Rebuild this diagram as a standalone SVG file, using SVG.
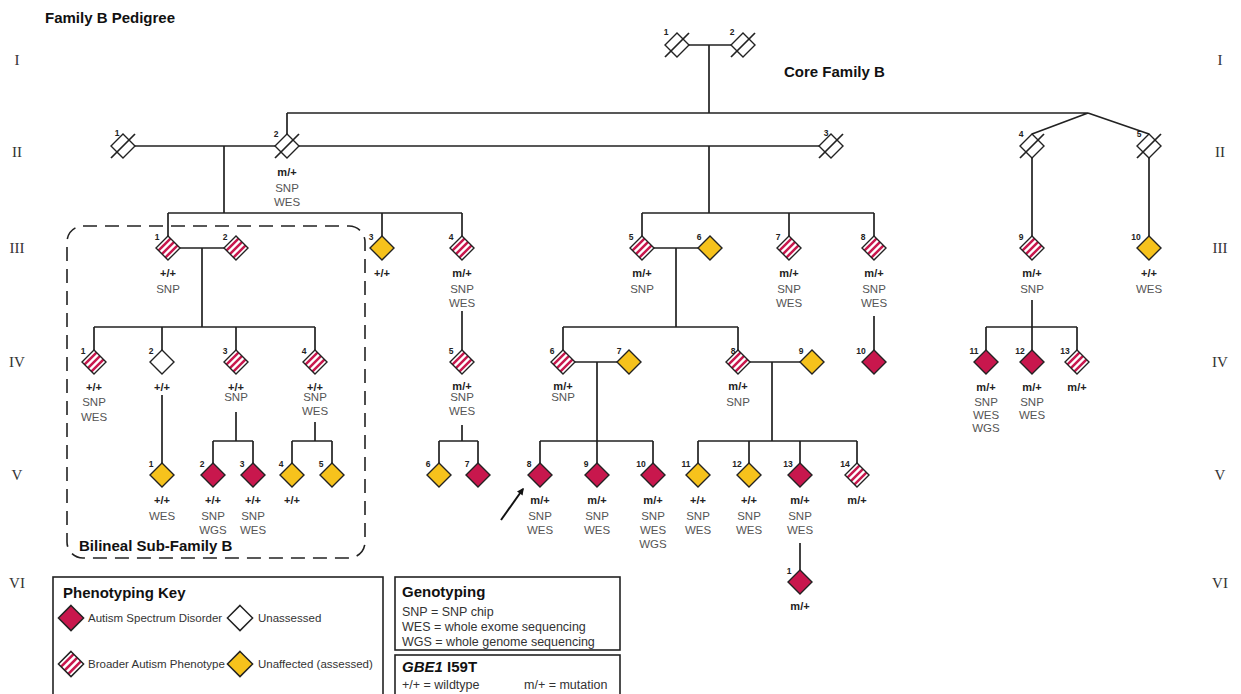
<svg xmlns="http://www.w3.org/2000/svg" xmlns:xlink="http://www.w3.org/1999/xlink" width="1241" height="694" viewBox="0 0 1241 694">
<style>
.ln{stroke:#222;stroke-width:1.7;fill:none}
.dia{stroke:#222;stroke-width:1.4}
.asdf{fill:#c8174d}
.unf{fill:#f6c21c}
.wf{fill:#fff}
.g{font-family:"Liberation Sans",Arial,sans-serif;font-weight:bold;font-size:11px;fill:#222;text-anchor:middle}
.a{font-family:"Liberation Sans",Arial,sans-serif;font-size:11.5px;fill:#555;text-anchor:middle}
.n{font-family:"Liberation Sans",Arial,sans-serif;font-weight:bold;font-size:8.5px;fill:#222;text-anchor:middle}
.gen{font-family:"Liberation Serif","Times New Roman",serif;font-size:15px;fill:#333;text-anchor:middle}
.ttl{font-family:"Liberation Sans",Arial,sans-serif;font-weight:bold;font-size:15px;fill:#111}
.key{font-family:"Liberation Sans",Arial,sans-serif;font-size:11.5px;fill:#333}
.key2{font-family:"Liberation Sans",Arial,sans-serif;font-size:12.5px;fill:#333}
.box{fill:#fff;stroke:#222;stroke-width:1.6}
</style>
<defs>
<clipPath id="dclip"><polygon points="0,-12 12,0 0,12 -12,0"/></clipPath>
<g id="asd"><polygon class="dia asdf" points="0,-12 12,0 0,12 -12,0"/></g>
<g id="unaff"><polygon class="dia unf" points="0,-12 12,0 0,12 -12,0"/></g>
<g id="unas"><polygon class="dia wf" points="0,-12 12,0 0,12 -12,0"/></g>
<g id="bap"><polygon class="wf" points="0,-12 12,0 0,12 -12,0"/><g clip-path="url(#dclip)" stroke="#c8174d" stroke-width="2.5"><line x1="-20" y1="13.1" x2="13.1" y2="-20"/><line x1="-20" y1="20" x2="20" y2="-20"/><line x1="-13.1" y1="20" x2="20" y2="-13.1"/></g><polygon class="dia" fill="none" points="0,-12 12,0 0,12 -12,0"/></g>
<g id="dec"><polygon class="dia wf" points="0,-12 12,0 0,12 -12,0"/><line class="ln" x1="-12" y1="12" x2="12" y2="-12"/></g>
<marker id="arr" viewBox="0 0 10 10" refX="8" refY="5" markerWidth="7" markerHeight="7" orient="auto" markerUnits="userSpaceOnUse"><path d="M0,0 L10,5 L0,10 z" fill="#111"/></marker>
</defs>
<rect width="1241" height="694" fill="#fff"/>
<text class="ttl" x="45" y="23">Family B Pedigree</text>
<text class="ttl" x="784" y="77">Core Family B</text>
<g id="gen-labels">
<text class="gen" x="17" y="65">I</text><text class="gen" x="17" y="157">II</text><text class="gen" x="17" y="253">III</text><text class="gen" x="17" y="367">IV</text><text class="gen" x="17" y="480">V</text><text class="gen" x="17" y="588">VI</text>
<text class="gen" x="1220" y="65">I</text><text class="gen" x="1220" y="157">II</text><text class="gen" x="1220" y="253">III</text><text class="gen" x="1220" y="367">IV</text><text class="gen" x="1220" y="480">V</text><text class="gen" x="1220" y="588">VI</text>
</g>
<g id="subfamily-box">
<rect x="67" y="226" width="298" height="332" rx="16" fill="none" stroke="#222" stroke-width="1.6" stroke-dasharray="14 8"/>
<text class="ttl" x="79" y="551">Bilineal Sub-Family B</text>
</g>
<g id="connectors">
<path class="ln" d="M689,45 H731 M709,45 V113 M287,113 H1088 M287,113 V134 M1088,113 L1032,134 M1088,113 L1149,134"/>
<path class="ln" d="M135,146 H275 M224,146 V213 M168,213 H462 M168,213 V236 M382,213 V236 M462,213 V236"/>
<path class="ln" d="M299,146 H819 M709,146 V213 M642,213 H874 M642,213 V236 M789,213 V236 M874,213 V236"/>
<path class="ln" d="M1032,158 V236 M1149,158 V236"/>
<path class="ln" d="M180,248 H224 M202,248 V327 M94,327 H315 M94,327 V350 M162,327 V350 M236,327 V350 M315,327 V350"/>
<path class="ln" d="M462,311 V350"/>
<path class="ln" d="M654,248 H698 M676,248 V327 M563,327 H738 M563,327 V350 M738,327 V350"/>
<path class="ln" d="M874,316 V350"/>
<path class="ln" d="M1032,300 V350 M986,327 H1077 M986,327 V350 M1077,327 V350"/>
<path class="ln" d="M162,395 V463 M236,412 V441 M213,441 H253 M213,441 V463 M253,441 V463 M315,422 V441 M292,441 H332 M292,441 V463 M332,441 V463"/>
<path class="ln" d="M462,425 V441 M439,441 H478 M439,441 V463 M478,441 V463"/>
<path class="ln" d="M575,362 H617 M597,362 V463 M540,441 H653 M540,441 V463 M653,441 V463"/>
<path class="ln" d="M750,362 H800 M772,362 V441 M698,441 H857 M698,441 V463 M749,441 V463 M800,441 V463 M857,441 V463"/>
<path class="ln" d="M800,543 V570"/>
<line x1="501" y1="520" x2="523" y2="489" stroke="#111" stroke-width="2" marker-end="url(#arr)"/>
</g>
<g id="I-1"><use href="#dec" x="677" y="45"/><text class="n" x="666" y="35">1</text></g>
<g id="I-2"><use href="#dec" x="743" y="45"/><text class="n" x="732" y="35">2</text></g>
<g id="II-1"><use href="#dec" x="123" y="146"/><text class="n" x="117" y="136">1</text></g>
<g id="II-2"><use href="#dec" x="287" y="146"/><text class="n" x="276" y="137">2</text><text class="g" x="287" y="176">m/+</text><text class="a" x="287" y="192">SNP</text><text class="a" x="287" y="206">WES</text></g>
<g id="II-3"><use href="#dec" x="831" y="146"/><text class="n" x="826" y="136">3</text></g>
<g id="II-4"><use href="#dec" x="1032" y="146"/><text class="n" x="1021" y="137">4</text></g>
<g id="II-5"><use href="#dec" x="1149" y="146"/><text class="n" x="1139" y="137">5</text></g>
<g id="III-1"><use href="#bap" x="168" y="248"/><text class="n" x="157" y="240">1</text><text class="g" x="168" y="277">+/+</text><text class="a" x="168" y="293">SNP</text></g>
<g id="III-2"><use href="#bap" x="236" y="248"/><text class="n" x="225" y="240">2</text></g>
<g id="III-3"><use href="#unaff" x="382" y="248"/><text class="n" x="371" y="240">3</text><text class="g" x="382" y="277">+/+</text></g>
<g id="III-4"><use href="#bap" x="462" y="248"/><text class="n" x="451" y="240">4</text><text class="g" x="462" y="277">m/+</text><text class="a" x="462" y="293">SNP</text><text class="a" x="462" y="307">WES</text></g>
<g id="III-5"><use href="#bap" x="642" y="248"/><text class="n" x="631" y="240">5</text><text class="g" x="642" y="277">m/+</text><text class="a" x="642" y="293">SNP</text></g>
<g id="III-6"><use href="#unaff" x="710" y="248"/><text class="n" x="699" y="240">6</text></g>
<g id="III-7"><use href="#bap" x="789" y="248"/><text class="n" x="778" y="240">7</text><text class="g" x="789" y="277">m/+</text><text class="a" x="789" y="293">SNP</text><text class="a" x="789" y="307">WES</text></g>
<g id="III-8"><use href="#bap" x="874" y="248"/><text class="n" x="863" y="240">8</text><text class="g" x="874" y="277">m/+</text><text class="a" x="874" y="293">SNP</text><text class="a" x="874" y="307">WES</text></g>
<g id="III-9"><use href="#bap" x="1032" y="248"/><text class="n" x="1021" y="240">9</text><text class="g" x="1032" y="277">m/+</text><text class="a" x="1032" y="293">SNP</text></g>
<g id="III-10"><use href="#unaff" x="1149" y="248"/><text class="n" x="1136" y="240">10</text><text class="g" x="1149" y="277">+/+</text><text class="a" x="1149" y="293">WES</text></g>
<g id="IV-1"><use href="#bap" x="94" y="362"/><text class="n" x="83" y="354">1</text><text class="g" x="94" y="391">+/+</text><text class="a" x="94" y="406">SNP</text><text class="a" x="94" y="421">WES</text></g>
<g id="IV-2"><use href="#unas" x="162" y="362"/><text class="n" x="151" y="354">2</text><text class="g" x="162" y="391">+/+</text></g>
<g id="IV-3"><use href="#bap" x="236" y="362"/><text class="n" x="225" y="354">3</text><text class="g" x="236" y="391">+/+</text><text class="a" x="236" y="401">SNP</text></g>
<g id="IV-4"><use href="#bap" x="315" y="362"/><text class="n" x="304" y="354">4</text><text class="g" x="315" y="391">+/+</text><text class="a" x="315" y="401">SNP</text><text class="a" x="315" y="415">WES</text></g>
<g id="IV-5"><use href="#bap" x="462" y="362"/><text class="n" x="451" y="354">5</text><text class="g" x="462" y="390">m/+</text><text class="a" x="462" y="401">SNP</text><text class="a" x="462" y="415">WES</text></g>
<g id="IV-6"><use href="#bap" x="563" y="362"/><text class="n" x="552" y="354">6</text><text class="g" x="563" y="390">m/+</text><text class="a" x="563" y="401">SNP</text></g>
<g id="IV-7"><use href="#unaff" x="629" y="362"/><text class="n" x="619" y="354">7</text></g>
<g id="IV-8"><use href="#bap" x="738" y="362"/><text class="n" x="733" y="354">8</text><text class="g" x="738" y="390">m/+</text><text class="a" x="738" y="406">SNP</text></g>
<g id="IV-9"><use href="#unaff" x="812" y="362"/><text class="n" x="801" y="354">9</text></g>
<g id="IV-10"><use href="#asd" x="874" y="362"/><text class="n" x="861" y="354">10</text></g>
<g id="IV-11"><use href="#asd" x="986" y="362"/><text class="n" x="974" y="354">11</text><text class="g" x="986" y="391">m/+</text><text class="a" x="986" y="406">SNP</text><text class="a" x="986" y="419">WES</text><text class="a" x="986" y="432">WGS</text></g>
<g id="IV-12"><use href="#asd" x="1032" y="362"/><text class="n" x="1020" y="354">12</text><text class="g" x="1032" y="391">m/+</text><text class="a" x="1032" y="406">SNP</text><text class="a" x="1032" y="419">WES</text></g>
<g id="IV-13"><use href="#bap" x="1077" y="362"/><text class="n" x="1065" y="354">13</text><text class="g" x="1077" y="391">m/+</text></g>
<g id="V-1"><use href="#unaff" x="162" y="475"/><text class="n" x="151" y="467">1</text><text class="g" x="162" y="504">+/+</text><text class="a" x="162" y="520">WES</text></g>
<g id="V-2"><use href="#asd" x="213" y="475"/><text class="n" x="202" y="467">2</text><text class="g" x="213" y="504">+/+</text><text class="a" x="213" y="520">SNP</text><text class="a" x="213" y="534">WGS</text></g>
<g id="V-3"><use href="#asd" x="253" y="475"/><text class="n" x="242" y="467">3</text><text class="g" x="253" y="504">+/+</text><text class="a" x="253" y="520">SNP</text><text class="a" x="253" y="534">WES</text></g>
<g id="V-4"><use href="#unaff" x="292" y="475"/><text class="n" x="281" y="467">4</text><text class="g" x="292" y="504">+/+</text></g>
<g id="V-5"><use href="#unaff" x="332" y="475"/><text class="n" x="321" y="467">5</text></g>
<g id="V-6"><use href="#unaff" x="439" y="475"/><text class="n" x="428" y="467">6</text></g>
<g id="V-7"><use href="#asd" x="478" y="475"/><text class="n" x="467" y="467">7</text></g>
<g id="V-8"><use href="#asd" x="540" y="475"/><text class="n" x="529" y="467">8</text><text class="g" x="540" y="504">m/+</text><text class="a" x="540" y="520">SNP</text><text class="a" x="540" y="534">WES</text></g>
<g id="V-9"><use href="#asd" x="597" y="475"/><text class="n" x="586" y="467">9</text><text class="g" x="597" y="504">m/+</text><text class="a" x="597" y="520">SNP</text><text class="a" x="597" y="534">WES</text></g>
<g id="V-10"><use href="#asd" x="653" y="475"/><text class="n" x="641" y="467">10</text><text class="g" x="653" y="504">m/+</text><text class="a" x="653" y="520">SNP</text><text class="a" x="653" y="534">WES</text><text class="a" x="653" y="548">WGS</text></g>
<g id="V-11"><use href="#unaff" x="698" y="475"/><text class="n" x="686" y="467">11</text><text class="g" x="698" y="504">+/+</text><text class="a" x="698" y="520">SNP</text><text class="a" x="698" y="534">WES</text></g>
<g id="V-12"><use href="#unaff" x="749" y="475"/><text class="n" x="737" y="467">12</text><text class="g" x="749" y="504">+/+</text><text class="a" x="749" y="520">SNP</text><text class="a" x="749" y="534">WES</text></g>
<g id="V-13"><use href="#asd" x="800" y="475"/><text class="n" x="788" y="467">13</text><text class="g" x="800" y="504">m/+</text><text class="a" x="800" y="520">SNP</text><text class="a" x="800" y="534">WES</text></g>
<g id="V-14"><use href="#bap" x="857" y="475"/><text class="n" x="845" y="467">14</text><text class="g" x="857" y="504">m/+</text></g>
<g id="VI-1"><use href="#asd" x="800" y="582"/><text class="n" x="789" y="574">1</text><text class="g" x="800" y="610">m/+</text></g>
<g id="phenotyping-key">
<rect class="box" x="53" y="577" width="330" height="130"/>
<text class="ttl" x="63" y="598">Phenotyping Key</text>
<use href="#asd" transform="translate(71,618) scale(1.05)"/><text class="key" x="88" y="622">Autism Spectrum Disorder</text>
<use href="#unas" transform="translate(240,618) scale(1.05)"/><text class="key" x="258" y="622">Unassessed</text>
<use href="#bap" transform="translate(71,664) scale(1.05)"/><text class="key" x="88" y="668">Broader Autism Phenotype</text>
<use href="#unaff" transform="translate(240,664) scale(1.05)"/><text class="key" x="258" y="668">Unaffected (assessed)</text>
</g>
<g id="genotyping-key">
<rect class="box" x="395" y="577" width="225" height="73"/>
<text class="ttl" x="402" y="597">Genotyping</text>
<text class="key2" x="402" y="616">SNP = SNP chip</text>
<text class="key2" x="402" y="631">WES = whole exome sequencing</text>
<text class="key2" x="402" y="646">WGS = whole genome sequencing</text>
</g>
<g id="gbe1-key">
<rect class="box" x="395" y="655" width="225" height="50"/>
<text class="ttl" x="402" y="672"><tspan font-style="italic">GBE1</tspan> I59T</text>
<text class="key2" x="402" y="689">+/+ = wildtype</text>
<text class="key2" x="524" y="689">m/+ = mutation</text>
</g>
</svg>
